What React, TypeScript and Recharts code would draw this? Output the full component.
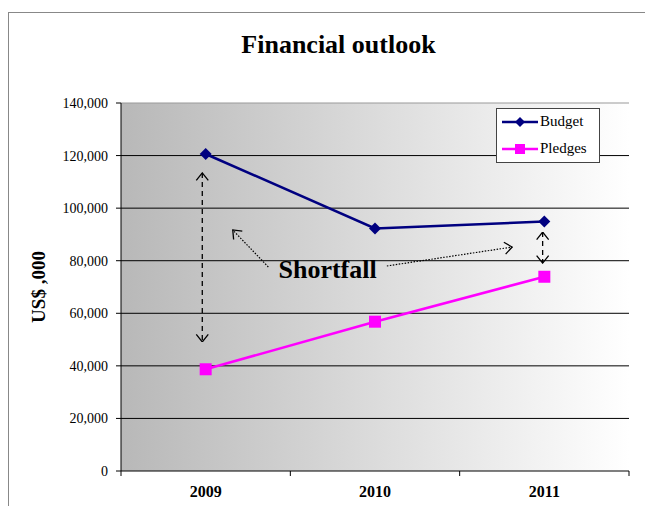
import React from 'react';
import {
  LineChart,
  Line,
  XAxis,
  YAxis,
  CartesianGrid,
  ReferenceLine,
  ReferenceDot,
} from 'recharts';

const years = ['2009', '2010', '2011'];
const budget = [120600, 92300, 94900];
const pledges = [38700, 56800, 73900];
const yTicks = [0, 20000, 40000, 60000, 80000, 100000, 120000, 140000];
const gridValues = [20000, 40000, 60000, 80000, 100000, 120000];
const edgeTicks = [0, 1, 2, 3];

// annotation arrows in axis units: [x1, y1, x2, y2]
const gapArrows = [
  [0.48, 113400, 0.48, 49100],
  [2.49, 90900, 2.49, 79100],
];
const pointerArrows = [
  [0.87, 77600, 0.66, 91700],
  [1.57, 78000, 2.31, 85200],
];
const shortfallLabel = { x: 1.22, y: 75800, text: 'Shortfall' };

const data = years.map((year, i) => ({
  pos: i + 0.5,
  year,
  budget: budget[i],
  pledges: pledges[i],
}));

const serif = '"Liberation Serif", "Times New Roman", serif';

function Arrow(props: any) {
  const { x1, y1, x2, y2, dash } = props;
  return (
    <line
      x1={x1}
      y1={y1}
      x2={x2}
      y2={y2}
      stroke="#000"
      strokeWidth={1.3}
      strokeDasharray={dash}
      markerStart="url(#head)"
      markerEnd="url(#head)"
      fill="none"
    />
  );
}

function PointerArrow(props: any) {
  const { x1, y1, x2, y2 } = props;
  return (
    <line
      x1={x1}
      y1={y1}
      x2={x2}
      y2={y2}
      stroke="#000"
      strokeWidth={1.2}
      strokeDasharray="1.5 1.5"
      markerEnd="url(#head)"
      fill="none"
    />
  );
}

function LegendBox() {
  const rows = [
    { name: 'Budget', color: '#000080', shape: 'diamond' },
    { name: 'Pledges', color: '#ff00ff', shape: 'square' },
  ];
  return (
    <div
      style={{
        position: 'absolute',
        left: 496,
        top: 108,
        width: 102,
        height: 53,
        background: '#fff',
        border: '1px solid #444',
        fontFamily: serif,
        fontSize: 15,
      }}
    >
      {rows.map((r, i) => (
        <div
          key={r.name}
          style={{ position: 'absolute', left: 4, top: 4 + i * 27, display: 'flex', alignItems: 'center' }}
        >
          <svg width={38} height={14}>
            <line x1={1} y1={7} x2={37} y2={7} stroke={r.color} strokeWidth={2.5} />
            {r.shape === 'diamond' ? (
              <polygon points="19,2 24,7 19,12 14,7" fill={r.color} />
            ) : (
              <rect x={14} y={2} width={10} height={10} fill={r.color} />
            )}
          </svg>
          <span style={{ marginLeft: 1 }}>{r.name}</span>
        </div>
      ))}
    </div>
  );
}

function Diamond(props: any) {
  const { cx, cy } = props;
  if (cx == null || cy == null) return null;
  return <polygon points={`${cx},${cy - 6} ${cx + 6},${cy} ${cx},${cy + 6} ${cx - 6},${cy}`} fill="#000080" />;
}

function Square(props: any) {
  const { cx, cy } = props;
  if (cx == null || cy == null) return null;
  return <rect x={cx - 6} y={cy - 6} width={12} height={12} fill="#ff00ff" />;
}

export default function App() {
  return (
    <div style={{ position: 'relative', width: 653, height: 514, margin: -8, background: '#fff', overflow: 'hidden' }}>
      <div
        style={{
          position: 'absolute',
          left: 8,
          top: 12,
          width: 700,
          height: 600,
          border: '1px solid #888',
        }}
      />
      <div
        style={{
          position: 'absolute',
          left: 0,
          top: 30,
          width: 677,
          textAlign: 'center',
          fontFamily: serif,
          fontWeight: 'bold',
          fontSize: 26,
        }}
      >
        Financial outlook
      </div>
      <div style={{ position: 'absolute', left: 0, top: 0 }}>
        <LineChart width={653} height={514} data={data} margin={{ top: 103, right: 24, bottom: 0, left: 0 }}>
          <defs>
            <linearGradient id="bg" x1="0" y1="0" x2="1" y2="0">
              <stop offset="0%" stopColor="#b8b8b8" />
              <stop offset="100%" stopColor="#ffffff" />
            </linearGradient>
            <marker
              id="head"
              viewBox="0 0 9 14"
              refX="8.5"
              refY="7"
              markerWidth="9"
              markerHeight="14"
              markerUnits="userSpaceOnUse"
              orient="auto-start-reverse"
            >
              <path d="M1,1 L8.5,7 L1,13" fill="none" stroke="#000" strokeWidth={1.3} />
            </marker>
          </defs>
          <CartesianGrid
            vertical={false}
            horizontalValues={gridValues}
            stroke="#000"
            strokeOpacity={1}
            fill="url(#bg)"
            fillOpacity={1}
          />
          <XAxis
            type="number"
            dataKey="pos"
            domain={[0, 3]}
            ticks={data.map((d) => d.pos)}
            tickFormatter={(v: number) => years[Math.floor(v)]}
            stroke="#000"
            tickLine={false}
            tickSize={0}
            tickMargin={15}
            height={43}
            tick={{ fontFamily: serif, fontWeight: 'bold', fontSize: 16, fill: '#000' }}
            allowDataOverflow
          />
          <YAxis
            domain={[0, 140000]}
            ticks={yTicks}
            width={121}
            tickSize={5}
            tickMargin={8}
            stroke="#000"
            tickFormatter={(v: number) => v.toLocaleString('en-US')}
            tick={{ fontFamily: serif, fontSize: 14, fill: '#000' }}
            label={{
              value: 'US$ ,000',
              angle: -90,
              position: 'insideLeft',
              offset: 38,
              style: { fontFamily: serif, fontWeight: 'bold', fontSize: 19, fill: '#000', textAnchor: 'middle' },
            }}
          />
          <YAxis yAxisId="r" orientation="right" width={0} tick={false} tickLine={false} stroke="#999" domain={[0, 140000]} />
          <ReferenceLine y={140000} stroke="#999" />
          {edgeTicks.map((t) => (
            <ReferenceLine
              key={'t' + t}
              ifOverflow="visible"
              segment={[
                { x: t, y: 0 },
                { x: t, y: -1900 },
              ]}
              stroke="#000"
            />
          ))}
          {gapArrows.map((a, i) => (
            <ReferenceLine
              key={'g' + i}
              segment={[
                { x: a[0], y: a[1] },
                { x: a[2], y: a[3] },
              ]}
              shape={(p: any) => <Arrow {...p} dash="5 4" />}
            />
          ))}
          {pointerArrows.map((a, i) => (
            <ReferenceLine
              key={'p' + i}
              segment={[
                { x: a[0], y: a[1] },
                { x: a[2], y: a[3] },
              ]}
              shape={(p: any) => <PointerArrow {...p} />}
            />
          ))}
          <ReferenceDot
            x={shortfallLabel.x}
            y={shortfallLabel.y}
            r={0}
            shape={(p: any) => (
              <text
                x={p.cx}
                y={p.cy}
                textAnchor="middle"
                dominantBaseline="middle"
                fontFamily={serif}
                fontWeight="bold"
                fontSize={26}
                fill="#000"
              >
                {shortfallLabel.text}
              </text>
            )}
          />
          <Line dataKey="budget" stroke="#000080" strokeWidth={2.5} dot={<Diamond />} isAnimationActive={false} />
          <Line dataKey="pledges" stroke="#ff00ff" strokeWidth={2.5} dot={<Square />} isAnimationActive={false} />
        </LineChart>
      </div>
      <LegendBox />
    </div>
  );
}
